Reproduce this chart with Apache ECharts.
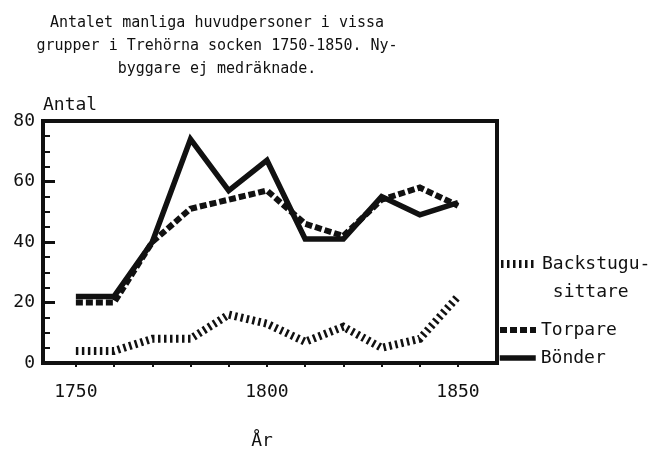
<!DOCTYPE html>
<html>
<head>
<meta charset="utf-8">
<script src="https://cdn.jsdelivr.net/npm/echarts@6/dist/echarts.min.js"></script>
<style>
html,body{margin:0;padding:0;background:#fff;}
#chart{width:649px;height:455px;}
</style>
</head>
<body>
<div id="chart"></div>
<script>
// ---- data ----
const years = [1750, 1760, 1770, 1780, 1790, 1800, 1810, 1820, 1830, 1840, 1850];
const backstugusittare = [4, 4, 8, 8, 16, 13, 7, 12, 5, 8, 22];
const torpare = [20, 20, 40, 51, 54, 57, 46, 42, 54, 58, 52];
const bonder = [22, 22, 40, 74, 57, 67, 41, 41, 55, 49, 53];
const xTickValues = [1750, 1760, 1770, 1780, 1790, 1800, 1810, 1820, 1830, 1840, 1850];
const xLabelValues = [1750, 1800, 1850];
const titleText = 'Antalet manliga huvudpersoner i vissa\ngrupper i Trehörna socken 1750-1850. Ny-\nbyggare ej medräknade.';
const seriesNames = ['Backstugusittare', 'Torpare', 'Bönder'];

const FONT = 'DejaVu Sans Mono';
const INK = '#111';

function pairs(vals) { return years.map((y, i) => [y, vals[i]]); }

const chart = echarts.init(document.getElementById('chart'), null, {renderer: 'canvas'});

const legendBase = {
  orient: 'vertical',
  padding: 0,
  itemWidth: 36,
  itemHeight: 8,
  itemGap: 0,
  left: 497,
  lineStyle: {width: 'inherit'},
  itemStyle: {opacity: 0},
  textStyle: {fontFamily: FONT, fontSize: 18, color: INK, lineHeight: 24},
  selectedMode: false
};

chart.setOption({
  animation: false,
  backgroundColor: '#fff',
  title: {
    text: titleText,
    left: 217,
    top: 12,
    textAlign: 'center',
    padding: 0,
    textStyle: {fontFamily: FONT, fontSize: 15, fontWeight: 'normal', color: INK, lineHeight: 23}
  },
  legend: [
    Object.assign({}, legendBase, {
      data: [seriesNames[0]],
      top: 222,
      formatter: () => '\nBackstugu-\n sittare',
      textStyle: {fontFamily: FONT, fontSize: 18, color: INK, lineHeight: 28}
    }),
    Object.assign({}, legendBase, {data: [seriesNames[1]], top: 318}),
    Object.assign({}, legendBase, {data: [seriesNames[2]], top: 346})
  ],
  grid: {
    left: 43, right: 152, top: 121, bottom: 92,
    show: true, borderColor: INK, borderWidth: 4, backgroundColor: 'transparent',
    containLabel: false
  },
  xAxis: {
    type: 'value',
    min: 1741.4,
    max: 1860.2,
    name: 'År',
    nameLocation: 'middle',
    nameGap: 69,
    nameTextStyle: {fontFamily: FONT, fontSize: 18, color: INK, padding: [0, 16, 0, 0]},
    axisLine: {show: true, onZero: false, lineStyle: {color: INK, width: 4}},
    axisTick: {show: true, inside: false, length: 4, lineStyle: {color: INK, width: 2}, customValues: xTickValues},
    axisLabel: {fontFamily: FONT, fontSize: 18, color: INK, margin: 20, customValues: xLabelValues,
      formatter: v => String(Math.round(v))},
    splitLine: {show: false}
  },
  yAxis: {
    type: 'value',
    min: 0,
    max: 80,
    interval: 20,
    name: 'Antal',
    nameLocation: 'end',
    nameGap: 16,
    nameTextStyle: {fontFamily: FONT, fontSize: 18, color: INK, align: 'left', verticalAlign: 'middle'},
    axisLine: {show: true, lineStyle: {color: INK, width: 3}},
    axisTick: {show: true, inside: true, length: 12, lineStyle: {color: INK, width: 3}},
    minorTick: {show: true, splitNumber: 4, length: 7, lineStyle: {color: INK, width: 2}},
    axisLabel: {fontFamily: FONT, fontSize: 18, color: INK, margin: 8},
    splitLine: {show: false},
    minorSplitLine: {show: false}
  },
  series: [
    {
      name: seriesNames[0], type: 'line', data: pairs(backstugusittare),
      symbol: 'none', showSymbol: false, color: INK,
      lineStyle: {color: INK, width: 8, type: [2.5, 3.5], cap: 'butt', join: 'miter'}
    },
    {
      name: seriesNames[1], type: 'line', data: pairs(torpare),
      symbol: 'none', showSymbol: false, color: INK,
      lineStyle: {color: INK, width: 6, type: [7, 3], cap: 'butt', join: 'miter'}
    },
    {
      name: seriesNames[2], type: 'line', data: pairs(bonder),
      symbol: 'none', showSymbol: false, color: INK,
      lineStyle: {color: INK, width: 5.5, type: 'solid', cap: 'butt', join: 'miter'}
    }
  ]
});
</script>
</body>
</html>
